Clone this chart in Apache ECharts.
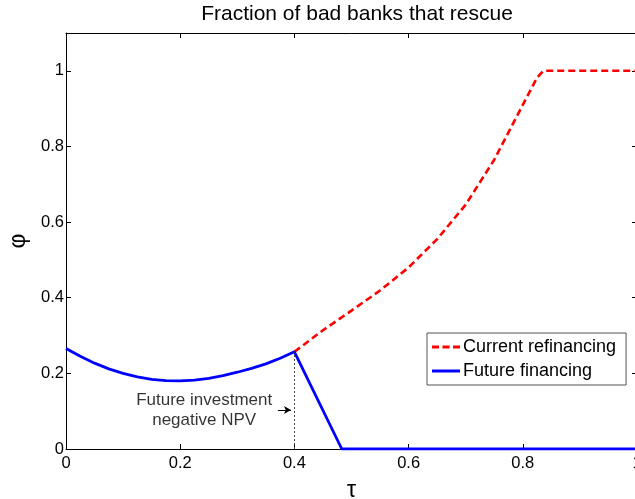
<!DOCTYPE html>
<html>
<head>
<meta charset="utf-8">
<script src="https://cdn.jsdelivr.net/npm/echarts@6/dist/echarts.min.js"></script>
<style>
  html, body { margin: 0; padding: 0; background: #fff; }
  #chart { width: 635px; height: 499px; }
</style>
</head>
<body>
<div id="chart"></div>
<script>
// Tax rate grid and rescue fractions
const tauFuture = [0, 0.025, 0.05, 0.075, 0.1, 0.125, 0.15, 0.175, 0.2, 0.225, 0.25, 0.275, 0.3, 0.325, 0.35, 0.375, 0.4, 0.483, 1.0];
const phiFuture = [0.266, 0.245, 0.227, 0.212, 0.200, 0.191, 0.184, 0.181, 0.180, 0.182, 0.187, 0.194, 0.203, 0.213, 0.225, 0.240, 0.257, 0.0, 0.0];

const tauCurrent = [0.4, 0.45, 0.5, 0.55, 0.6, 0.65, 0.7, 0.75, 0.8, 0.825, 0.836, 0.845, 1.0];
const phiCurrent = [0.257, 0.314, 0.366, 0.419, 0.480, 0.555, 0.646, 0.765, 0.910, 0.982, 1.0, 1.0, 1.0];

// Threshold where future investment turns negative NPV
const npvThreshold = 0.4;
const npvThresholdPhi = 0.257;
const noteText = 'Future investment\nnegative NPV';
const notePos = [0.242, 0.103];
const arrowFrom = [0.371, 0.103];
const arrowTo = [0.394, 0.103];

const xTicks = { min: 0, max: 1, interval: 0.2 };
const yTicks = { min: 0, max: 1.1, interval: 0.2 };

const font = '"Liberation Sans", Arial, sans-serif';
const zip = (xs, ys) => xs.map((x, i) => [x, ys[i]]);

// Box frame: every side gets its own line and inward-pointing ticks
function frameAxis(tickLen) {
  return {
    axisLine: { show: true, onZero: false, lineStyle: { color: '#000', width: 1 } },
    axisTick: { show: true, inside: true, length: tickLen, lineStyle: { color: '#000', width: 1 } },
    splitLine: { show: false }
  };
}

const chart = echarts.init(document.getElementById('chart'), null, { renderer: 'canvas' });
chart.setOption({
  animation: false,
  backgroundColor: '#fff',
  title: {
    text: 'Fraction of bad banks that rescue',
    left: 352, top: -1, textAlign: 'center',
    textStyle: { fontFamily: font, fontSize: 21, fontWeight: 'normal', color: '#000' }
  },
  grid: { left: 66, top: 33, width: 571, height: 416, containLabel: false, outerBoundsMode: 'none' },
  legend: {
    left: 427, top: 333, orient: 'vertical',
    padding: [5, 10, 5, 5], itemGap: 6,
    itemWidth: 28, itemHeight: 3,
    borderColor: '#555', borderWidth: 1, backgroundColor: '#fff',
    data: [
      { name: 'Current refinancing', icon: 'path://M0 0H7V3H0Z M10.5 0H17.5V3H10.5Z M21 0H28V3H21Z' },
      { name: 'Future financing', icon: 'path://M0 0H28V3H0Z' }
    ],
    textStyle: { fontFamily: font, fontSize: 18, color: '#000', padding: [0, 0, 0, -2] }
  },
  xAxis: [
    Object.assign({
      type: 'value', position: 'bottom', min: xTicks.min, max: xTicks.max, interval: xTicks.interval,
      name: 'τ', nameLocation: 'middle', nameGap: 30,
      nameTextStyle: { fontFamily: font, fontSize: 23, color: '#000' },
      axisLabel: { fontFamily: font, fontSize: 16.5, color: '#000', margin: 6 }
    }, frameAxis(5)),
    Object.assign({
      type: 'value', position: 'top', min: xTicks.min, max: xTicks.max, interval: xTicks.interval,
      axisLabel: { show: false }
    }, frameAxis(5))
  ],
  yAxis: [
    Object.assign({
      type: 'value', position: 'left', min: yTicks.min, max: yTicks.max, interval: yTicks.interval,
      name: 'φ', nameLocation: 'middle', nameGap: 36, nameRotate: 90,
      nameTextStyle: { fontFamily: font, fontSize: 23, color: '#000' },
      axisLabel: { fontFamily: font, fontSize: 16.5, color: '#000', margin: 2, showMaxLabel: false }
    }, frameAxis(5)),
    Object.assign({
      type: 'value', position: 'right', min: yTicks.min, max: yTicks.max, interval: yTicks.interval,
      axisLabel: { show: false }
    }, frameAxis(5))
  ],
  series: [
    {
      name: 'Current refinancing', type: 'line', symbol: 'none', z: 3,
      data: zip(tauCurrent, phiCurrent),
      lineStyle: { color: '#ff0000', width: 2.6, type: [7, 4] },
      itemStyle: { color: '#ff0000' }
    },
    {
      name: 'Future financing', type: 'line', symbol: 'none', z: 4,
      data: zip(tauFuture, phiFuture),
      lineStyle: { color: '#0000ff', width: 2.8 },
      itemStyle: { color: '#0000ff' }
    },
    {
      name: 'note', type: 'scatter', symbolSize: 0, z: 5, silent: true,
      data: [notePos],
      label: {
        show: true, position: 'inside', formatter: noteText,
        fontFamily: font, fontSize: 17, color: '#000', lineHeight: 20, align: 'center'
      },
      markLine: {
        silent: true, animation: false,
        label: { show: false },
        data: [
          [
            { coord: [npvThreshold, 0], symbol: 'none', lineStyle: { type: [2, 2], color: '#444', width: 1 } },
            { coord: [npvThreshold, npvThresholdPhi], symbol: 'none' }
          ],
          [
            { coord: arrowFrom, symbol: 'none', lineStyle: { type: 'solid', color: '#000', width: 1 } },
            { coord: arrowTo, symbol: 'arrow', symbolSize: [6, 7] }
          ]
        ]
      }
    }
  ]
});
</script>
</body>
</html>
